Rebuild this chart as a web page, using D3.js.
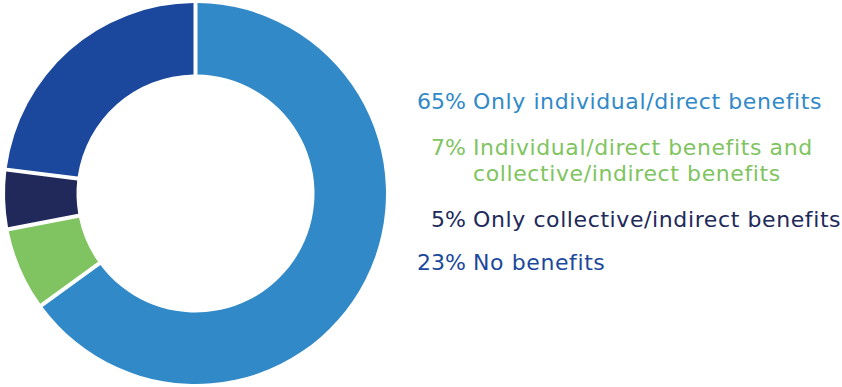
<!DOCTYPE html>
<html>
<head>
<meta charset="utf-8">
<script src="https://cdn.jsdelivr.net/npm/d3@7"></script>
<style>
  html, body { margin: 0; padding: 0; background: #fff; }
  svg { display: block; }
  text { font-family: "DejaVu Sans", "Open Sans", sans-serif; font-size: 22px; }
  text.label { letter-spacing: 0.6px; }
</style>
</head>
<body>
<svg id="chart" width="842" height="387"></svg>
<script>
// Share of respondents by type of benefit received
const categories = [
  "Only individual/direct benefits",
  "Individual/direct benefits and|collective/indirect benefits",
  "Only collective/indirect benefits",
  "No benefits"
];
const values = [65, 7, 5, 23];
const colors = ["#3189c8", "#80c461", "#21285a", "#1b489c"];

const svg = d3.select("#chart");
const cx = 195.5, cy = 193.5, outerR = 190.5, innerR = 119;

const pie = d3.pie().sort(null).value(d => d);
const arc = d3.arc()
  .innerRadius(innerR)
  .outerRadius(outerR)
  .padRadius(100)
  .padAngle(0.04);

svg.append("g")
  .attr("transform", `translate(${cx},${cy})`)
  .selectAll("path")
  .data(pie(values))
  .join("path")
  .attr("d", arc)
  .attr("fill", (d, i) => colors[i]);

// Legend: percentage right-aligned, label left-aligned
const legendY = [109, 155, 226.5, 270];
const pctX = 466, labelX = 473, lineH = 25.5;
const legend = svg.append("g");
categories.forEach((c, i) => {
  const g = legend.append("g").attr("fill", colors[i]);
  g.append("text")
    .attr("x", pctX).attr("y", legendY[i])
    .attr("text-anchor", "end")
    .text(values[i] + "%");
  c.split("|").forEach((line, j) => {
    g.append("text")
      .attr("class", "label")
      .attr("x", labelX).attr("y", legendY[i] + j * lineH)
      .text(line);
  });
});
</script>
</body>
</html>
